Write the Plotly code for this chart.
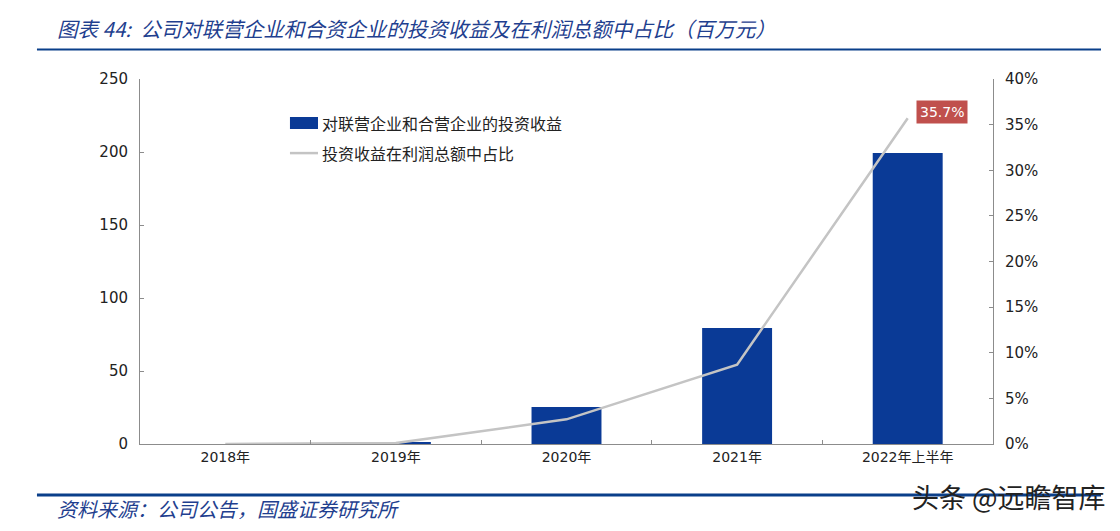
import plotly.graph_objects as go

categories = ["2018年", "2019年", "2020年", "2021年", "2022年上半年"]
invest_income = [0.0, 1.2, 25.3, 79.5, 199.3]
share_pct = [0.0, 0.1, 2.7, 8.7, 35.7]
y_left_ticks = [0, 50, 100, 150, 200, 250]
y_right_ticks = [0, 5, 10, 15, 20, 25, 30, 35, 40]
bar_name = "对联营企业和合营企业的投资收益"
line_name = "投资收益在利润总额中占比"

font_cjk = "Noto Sans CJK SC"
font_num = "DejaVu Sans"
font_mix = "DejaVu Sans, Noto Sans CJK SC"
bar_color = "#0a3a96"
line_color = "#c4c4c4"
blue_text = "#1f3f8f"

fig = go.Figure()
fig.add_trace(go.Bar(
    x=categories, y=invest_income, name=bar_name,
    marker=dict(color=bar_color, line=dict(width=0)), width=0.41,
))
fig.add_trace(go.Scatter(
    x=categories, y=share_pct, name=line_name, yaxis="y2",
    mode="lines", line=dict(color=line_color, width=2.5),
))

fig.update_layout(
    width=1120, height=531,
    margin=dict(l=132, r=135, t=71, b=95),
    paper_bgcolor="white", plot_bgcolor="white",
    showlegend=False,
    xaxis=dict(
        type="category", showline=True, linecolor="#8c8c8c", linewidth=1,
        ticks="inside", tickson="boundaries", ticklen=4, tickcolor="#8c8c8c",
        tickfont=dict(family=font_mix, size=14, color="#222"),
        showgrid=False, zeroline=False,
    ),
    yaxis=dict(
        range=[0, 250], tickvals=y_left_ticks, showline=True, linecolor="#8c8c8c",
        ticks="inside", ticklen=4, tickcolor="#8c8c8c", showgrid=False, zeroline=False,
        tickfont=dict(family=font_num, size=15, color="#222"), ticklabelstandoff=8,
    ),
    yaxis2=dict(
        range=[0, 40], tickvals=y_right_ticks, ticktext=[f"{v}%" for v in y_right_ticks],
        overlaying="y", side="right", showline=True, linecolor="#8c8c8c",
        ticks="inside", ticklen=4, tickcolor="#8c8c8c", showgrid=False, zeroline=False,
        tickfont=dict(family=font_num, size=15, color="#222"), ticklabelstandoff=8,
    ),
    bargap=0.59,
)

# custom legend
fig.add_shape(type="rect", xref="paper", yref="paper", x0=0.1758, x1=0.2087, y0=0.863, y1=0.8959,
              fillcolor=bar_color, line=dict(width=0))
fig.add_annotation(xref="paper", yref="paper", x=0.211, y=0.8795, xanchor="left", yanchor="middle",
                   text=bar_name, showarrow=False, font=dict(family=font_cjk, size=16, color="#222"))
fig.add_shape(type="line", xref="paper", yref="paper", x0=0.1758, x1=0.2087, y0=0.797, y1=0.797,
              line=dict(color=line_color, width=2.5))
fig.add_annotation(xref="paper", yref="paper", x=0.211, y=0.797, xanchor="left", yanchor="middle",
                   text=line_name, showarrow=False, font=dict(family=font_cjk, size=16, color="#222"))

# data label for last point
fig.add_annotation(
    x=categories[-1], y=share_pct[-1], yref="y2", text=f"{share_pct[-1]}%",
    showarrow=False, xshift=34, yshift=6, bgcolor="#c0504d",
    font=dict(family=font_num, size=14, color="white"), borderpad=3,
)

# title
fig.add_annotation(
    xref="paper", yref="paper", x=-0.0996, y=1.1397, xanchor="left", yanchor="middle",
    text="<i>图表 44:  公司对联营企业和合资企业的投资收益及在利润总额中占比（百万元）</i>",
    showarrow=False, font=dict(family=font_cjk, size=20.5, color=blue_text),
)
# source
fig.add_annotation(
    xref="paper", yref="paper", x=-0.0996, y=-0.178, xanchor="left", yanchor="middle",
    text="<i>资料来源：公司公告，国盛证券研究所</i>",
    showarrow=False, font=dict(family=font_cjk, size=20, color=blue_text),
)

# rule lines
fig.add_shape(type="line", xref="paper", yref="paper", x0=-0.1208, x1=1.1266, y0=1.0808, y1=1.0808,
              line=dict(color="#0a3f8a", width=2))
fig.add_shape(type="line", xref="paper", yref="paper", x0=-0.1208, x1=1.1266, y0=-0.1397, y1=-0.1397,
              line=dict(color="#0a3f8a", width=3))

# watermark
fig.add_annotation(
    xref="paper", yref="paper", x=1.1348, y=-0.145, xanchor="right", yanchor="middle",
    text="头条 @远瞻智库",
    showarrow=False, font=dict(family=font_cjk, size=27, color="#222"),
)

fig.write_html("out.html")
